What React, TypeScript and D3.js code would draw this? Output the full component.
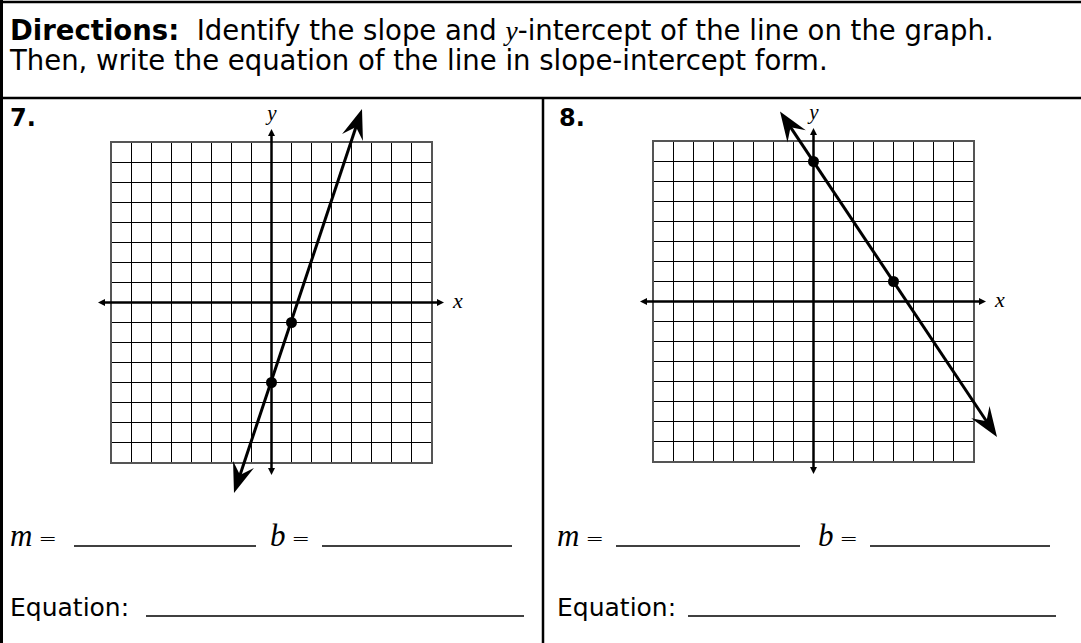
import React from 'react';
import * as d3 from 'd3';

// grid goes from -8 to 8 on both axes
const gridValues = [-8, -7, -6, -5, -4, -3, -2, -1, 0, 1, 2, 3, 4, 5, 6, 7, 8];
const problemLabels = ['7.', '8.'];
// ends of the drawn lines (arrow tips)
const lineEnds7 = [[-1.85, -9.55], [4.55, 9.65]];
const lineEnds8 = [[-1.65, 9.48], [9.2, -6.8]];
// the marked points
const points7 = [[1, -1], [0, -4]];
const points8 = [[0, 7], [4, 1]];

const directionsLead = 'Directions:';
const directionsLine1 = ['Identify the slope and ', 'y', '-intercept of the line on the graph.'];
const directionsLine2 = 'Then, write the equation of the line in slope-intercept form.';

const W = 1081;
const H = 643;

const sansFont = "'DejaVu Sans', sans-serif";
const serifFont = "'Liberation Serif', 'Times New Roman', serif";

function arrowHead(tip: number[], from: number[], len: number, half: number, notch: number) {
  const dx = tip[0] - from[0];
  const dy = tip[1] - from[1];
  const d = Math.sqrt(dx * dx + dy * dy);
  const ux = dx / d;
  const uy = dy / d;
  const px = -uy;
  const py = ux;
  const p = d3.path();
  p.moveTo(tip[0], tip[1]);
  p.lineTo(tip[0] - ux * len + px * half, tip[1] - uy * len + py * half);
  p.lineTo(tip[0] - ux * notch, tip[1] - uy * notch);
  p.lineTo(tip[0] - ux * len - px * half, tip[1] - uy * len - py * half);
  p.closePath();
  return p.toString();
}

function Graph({ left, top, lineEnds, points }: { left: number; top: number; lineEnds: number[][]; points: number[][] }) {
  const size = 320;
  const x = d3.scaleLinear().domain([-8, 8]).range([left, left + size]);
  const y = d3.scaleLinear().domain([-8, 8]).range([top + size, top]);
  const ox = x(0);
  const oy = y(0);
  const ext = 13;
  const line = d3.line<number[]>().x((d) => d[0]).y((d) => d[1]);
  const pix = lineEnds.map((d) => [x(d[0]), y(d[1])]);
  // pull the line ends back so the stroke stops inside the arrow heads
  const shorten = (a: number[], b: number[], k: number) => {
    const dx = b[0] - a[0];
    const dy = b[1] - a[1];
    const d = Math.sqrt(dx * dx + dy * dy);
    return [b[0] - (dx / d) * k, b[1] - (dy / d) * k];
  };
  const lp0 = shorten(pix[1], pix[0], 18);
  const lp1 = shorten(pix[0], pix[1], 18);

  return (
    <g>
      <g shapeRendering="crispEdges">
        {gridValues.map((v) => (
          <line key={'v' + v} x1={x(v) + 0.5} x2={x(v) + 0.5} y1={y(-8)} y2={y(8)} stroke="#000" strokeWidth={1} />
        ))}
        {gridValues.map((v) => (
          <line key={'h' + v} x1={x(-8)} x2={x(8)} y1={y(v) + 0.5} y2={y(v) + 0.5} stroke="#000" strokeWidth={1} />
        ))}
        <rect x={x(-8)} y={y(8)} width={size + 1} height={size + 1} fill="none" stroke="#555" strokeWidth={2} />
      </g>
      {/* axes */}
      <line x1={x(-8) - ext + 4} x2={x(8) + ext - 4} y1={oy + 0.5} y2={oy + 0.5} stroke="#000" strokeWidth={2.5} />
      <line x1={ox + 0.5} x2={ox + 0.5} y1={y(8) - ext + 4} y2={y(-8) + ext - 4} stroke="#000" strokeWidth={2.5} />
      <path d={arrowHead([x(-8) - ext, oy + 0.5], [ox, oy + 0.5], 7, 3.5, 7)} fill="#000" />
      <path d={arrowHead([x(8) + ext, oy + 0.5], [ox, oy + 0.5], 7, 3.5, 7)} fill="#000" />
      <path d={arrowHead([ox + 0.5, y(8) - ext], [ox + 0.5, oy], 7, 3.5, 7)} fill="#000" />
      <path d={arrowHead([ox + 0.5, y(-8) + ext], [ox + 0.5, oy], 7, 3.5, 7)} fill="#000" />
      <text x={ox + 1} y={y(8) - 22} textAnchor="middle" fontFamily={serifFont} fontStyle="italic" fontSize={21}>y</text>
      <text x={x(8) + 22} y={oy + 6} fontFamily={serifFont} fontStyle="italic" fontSize={22}>x</text>
      {/* the line */}
      <path d={line([lp0, lp1]) || ''} fill="none" stroke="#000" strokeWidth={3} />
      <path d={arrowHead(pix[0], pix[1], 30, 11, 19)} fill="#000" />
      <path d={arrowHead(pix[1], pix[0], 30, 11, 19)} fill="#000" />
      {points.map((p, i) => (
        <circle key={i} cx={x(p[0]) + 0.5} cy={y(p[1]) + 0.5} r={5.5} fill="#000" />
      ))}
    </g>
  );
}

function AnswerRows({ tx, mLine, bx, bLine, eqLine }: { tx: number; mLine: number[]; bx: number; bLine: number[]; eqLine: number[] }) {
  const rowY = 546;
  const eqY = 616;
  return (
    <g>
      <text x={tx} y={rowY} fontFamily={serifFont} fontSize={31}>
        <tspan fontStyle="italic">m</tspan>
        <tspan fontFamily={sansFont} fontWeight={300} fontSize={22} dx={6}>=</tspan>
      </text>
      <line x1={mLine[0]} x2={mLine[1]} y1={rowY} y2={rowY} stroke="#000" strokeWidth={1.5} />
      <text x={bx} y={rowY} fontFamily={serifFont} fontSize={31}>
        <tspan fontStyle="italic">b</tspan>
        <tspan fontFamily={sansFont} fontWeight={300} fontSize={22} dx={6}>=</tspan>
      </text>
      <line x1={bLine[0]} x2={bLine[1]} y1={rowY} y2={rowY} stroke="#000" strokeWidth={1.5} />
      <text x={tx} y={eqY} fontFamily={sansFont} fontSize={25}>Equation:</text>
      <line x1={eqLine[0]} x2={eqLine[1]} y1={eqY} y2={eqY} stroke="#000" strokeWidth={1.5} />
    </g>
  );
}

export default function App() {
  return (
    <svg width={W} height={H} style={{ position: 'absolute', left: 0, top: 0, background: '#fff' }}>
      <rect width={W} height={H} fill="#fff" />
      {/* frame */}
      <line x1={0} x2={W} y1={2} y2={2} stroke="#000" strokeWidth={2.5} />
      <line x1={1.5} x2={1.5} y1={0} y2={H} stroke="#000" strokeWidth={3} />
      <line x1={0} x2={W} y1={98} y2={98} stroke="#000" strokeWidth={2.5} />
      <line x1={543} x2={543} y1={98} y2={H} stroke="#000" strokeWidth={2.5} />

      {/* directions */}
      <text x={10} y={40} fontFamily={sansFont} fontSize={27.5}>
        <tspan fontWeight="bold">{directionsLead}</tspan>
        <tspan>{'\u00a0 ' + directionsLine1[0]}</tspan>
        <tspan fontFamily={serifFont} fontStyle="italic">{directionsLine1[1]}</tspan>
        <tspan>{directionsLine1[2]}</tspan>
      </text>
      <text x={10} y={70} fontFamily={sansFont} fontSize={27.5}>{directionsLine2}</text>

      {/* problem numbers */}
      <text x={10} y={126} fontFamily={sansFont} fontWeight="bold" fontSize={24}>{problemLabels[0]}</text>
      <text x={559} y={126} fontFamily={sansFont} fontWeight="bold" fontSize={24}>{problemLabels[1]}</text>

      <Graph left={111} top={142} lineEnds={lineEnds7} points={points7} />
      <Graph left={653} top={141} lineEnds={lineEnds8} points={points8} />

      <AnswerRows tx={10} mLine={[74, 256]} bx={270} bLine={[322, 512]} eqLine={[146, 524]} />
      <AnswerRows tx={557} mLine={[616, 800]} bx={818} bLine={[870, 1050]} eqLine={[688, 1056]} />
    </svg>
  );
}
